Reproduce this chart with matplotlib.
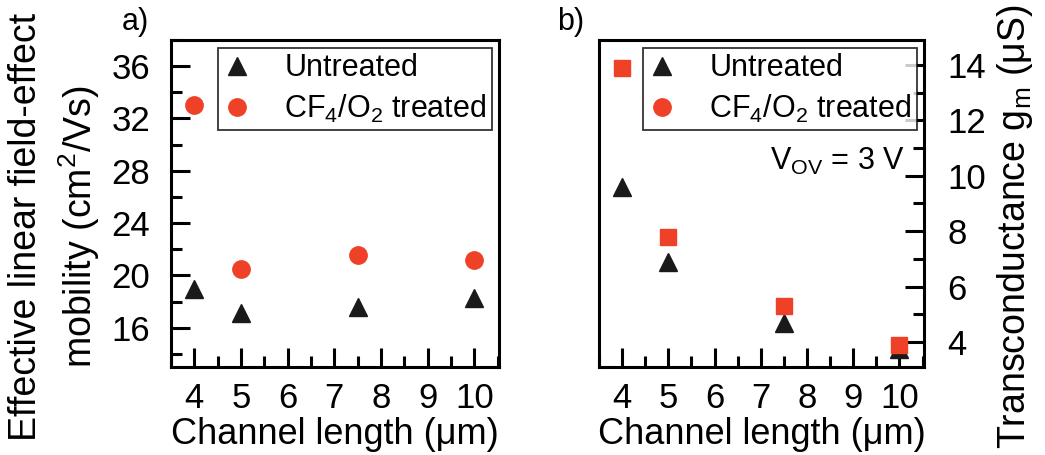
import matplotlib
matplotlib.use("Agg")
import matplotlib.pyplot as plt
from matplotlib.lines import Line2D
from matplotlib.ticker import MultipleLocator

plt.rcParams['font.family'] = ['Liberation Sans', 'DejaVu Sans']
plt.rcParams['mathtext.fontset'] = 'custom'
plt.rcParams['mathtext.rm'] = 'Liberation Sans'
plt.rcParams['mathtext.it'] = 'Liberation Sans'
plt.rcParams['mathtext.default'] = 'regular'

RED = '#EE4128'
BLACK = '#1a1a1a'

# channel lengths (um)
lengths = [4, 5, 7.5, 10]

# panel a: effective linear field-effect mobility (cm2/Vs)
mobilityUntreated = [19.0, 17.1, 17.6, 18.3]
mobilityTreated = [33.0, 20.5, 21.6, 21.2]

# panel b: transconductance gm (uS)
gmUntreated = [9.6, 6.9, 4.7, 3.75]
gmTreated = [13.9, 7.8, 5.3, 3.9]

xTicks = [4, 5, 6, 7, 8, 9, 10]
mobilityTicks = [16, 20, 24, 28, 32, 36]
gmTicks = [4, 6, 8, 10, 12, 14]

legendLabels = ['Untreated', 'CF$_4$/O$_2$ treated']

fig = plt.figure(figsize=(10.45, 4.55), dpi=100)
axA = fig.add_axes([0.1636, 0.1934, 0.3139, 0.7187])
axB = fig.add_axes([0.5732, 0.1934, 0.3110, 0.7187])


def styleAxis(ax, side):
    for spine in ax.spines.values():
        spine.set_linewidth(2.2)
    ax.set_xlim(3.5, 10.53)
    ax.set_xticks(xTicks)
    ax.xaxis.set_minor_locator(MultipleLocator(0.5))
    ax.tick_params(which='both', direction='in', width=2.2, labelsize=25,
                   top=False, bottom=True, left=(side == 'left'), right=(side == 'right'),
                   labelleft=(side == 'left'), labelright=(side == 'right'))
    ax.tick_params(which='major', length=14)
    ax.tick_params(which='minor', length=8)
    ax.tick_params(axis='x', which='major', pad=11)
    ax.tick_params(axis='y', which='major', pad=15 if side == 'left' else 17)
    ax.set_xlabel('Channel length (μm)', fontsize=26, labelpad=1.5)


def addLegend(ax):
    handles = [
        Line2D([], [], linestyle='none', marker='^', markersize=13, color=BLACK),
        Line2D([], [], linestyle='none', marker='o', markersize=12.5, color=RED),
    ]
    legend = ax.legend(handles, legendLabels, loc='upper right', bbox_to_anchor=(0.979, 0.976),
                       fontsize=22, frameon=True, fancybox=False, borderpad=0.18,
                       handlelength=0.88, handletextpad=1.1, labelspacing=0.3, borderaxespad=0)
    legend.get_frame().set_edgecolor('black')
    legend.get_frame().set_linewidth(1.3)


# panel a
axA.plot(lengths, mobilityUntreated, linestyle='none', marker='^', markersize=13, color=BLACK)
axA.plot(lengths, mobilityTreated, linestyle='none', marker='o', markersize=12.5, color=RED)
styleAxis(axA, 'left')
axA.set_ylim(13, 38)
axA.set_yticks(mobilityTicks)
axA.yaxis.set_minor_locator(MultipleLocator(2))
axA.set_ylabel('Effective linear field-effect\nmobility (cm$^2$/Vs)', fontsize=27,
               linespacing=1.35)
axA.yaxis.set_label_coords(-0.21, 0.428)
addLegend(axA)
fig.text(0.130, 0.934, 'a)', fontsize=22, ha='center', va='baseline')

# panel b
axB.plot(lengths, gmUntreated, linestyle='none', marker='^', markersize=13, color=BLACK)
axB.plot(lengths, gmTreated, linestyle='none', marker='s', markersize=11, color=RED)
styleAxis(axB, 'right')
axB.set_ylim(3.1, 14.9)
axB.set_yticks(gmTicks)
axB.yaxis.set_minor_locator(MultipleLocator(1))
axB.yaxis.set_label_position('right')
axB.set_ylabel('Transconductance g$_m$ (μS)', fontsize=27, rotation=90)
axB.yaxis.set_label_coords(1.22, 0.428)
addLegend(axB)
axB.text(0.942, 0.602, 'V$_{OV}$ = 3 V', transform=axB.transAxes, fontsize=22,
         ha='right', va='baseline')
fig.text(0.546, 0.934, 'b)', fontsize=22, ha='center', va='baseline')

fig.savefig('out.png', dpi=100)
